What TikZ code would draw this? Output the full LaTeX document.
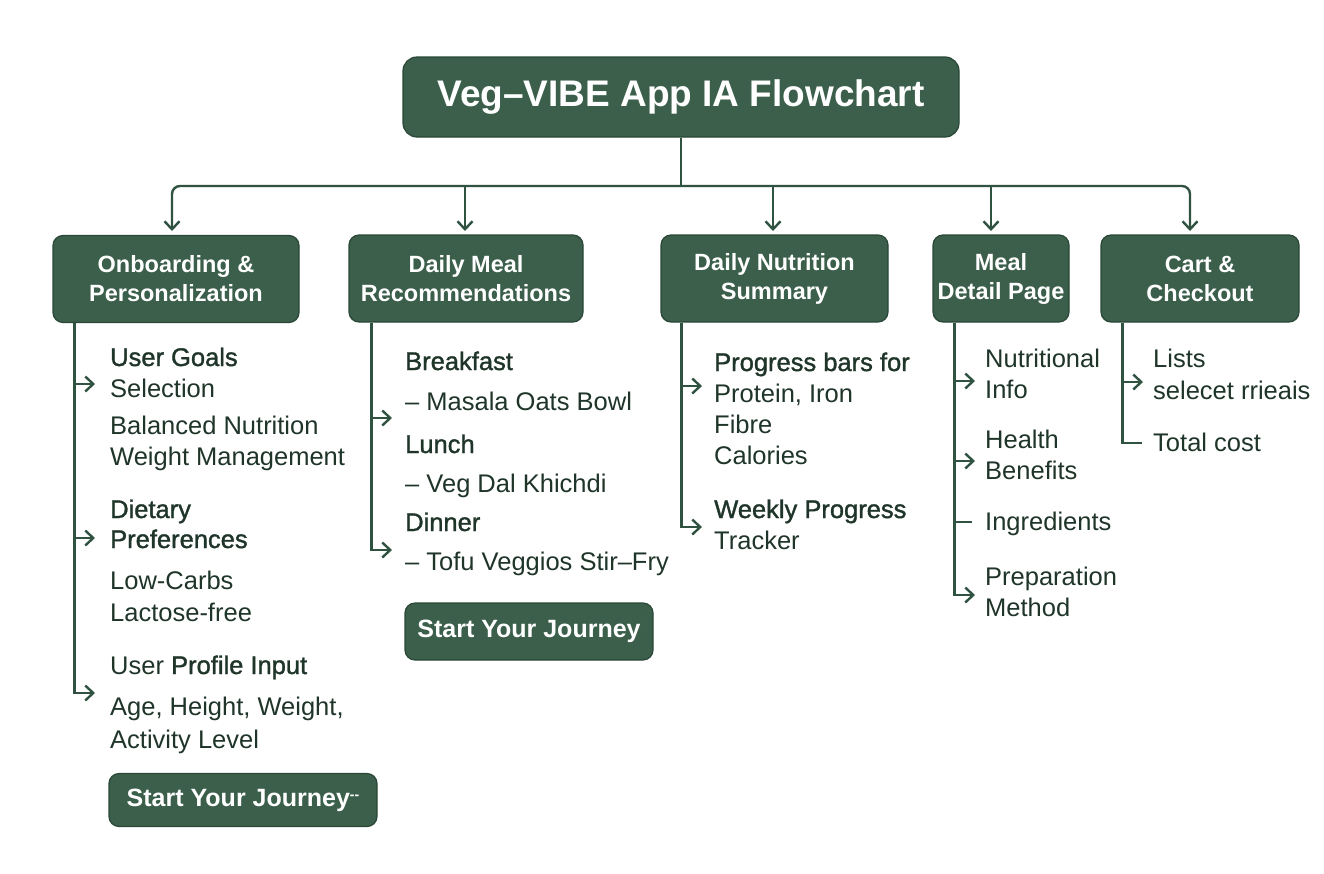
\documentclass[tikz,border=0pt]{standalone}
\usepackage{fontspec}
\setmainfont{Liberation Sans}
\newfontfamily\semib[FakeBold=1.3]{Liberation Sans}
\usetikzlibrary{arrows.meta}
\definecolor{boxgreen}{HTML}{3B5F4B}
\definecolor{boxedge}{HTML}{2A4737}
\definecolor{linegreen}{HTML}{2F5241}
\definecolor{txt}{HTML}{1F3529}
\tikzset{
  hbox/.style={draw=boxedge, fill=boxgreen, line width=1.2pt, rounded corners=10pt,
    text=white, font=\bfseries\fontsize{23.5}{29}\selectfont, align=center,
    inner sep=0pt, minimum height=87pt},
  btn/.style={draw=boxedge, fill=boxgreen, line width=1.2pt, rounded corners=10pt,
    text=white, font=\bfseries\fontsize{25}{30}\selectfont, inner sep=0pt},
  body/.style={anchor=base west, inner sep=0pt, text=txt, font=\fontsize{25.5}{30}\selectfont},
  sbody/.style={body, font=\semib\fontsize{25.5}{30}\selectfont},
  wire/.style={draw=linegreen, line width=2.4pt},
  arr/.style={wire, -{Straight Barb[length=8pt,width=15pt,line width=2.4pt]}},
}
\begin{document}
\begin{tikzpicture}[x=1pt,y=-1pt]
\useasboundingbox (0,0) rectangle (1324,873);
\fill[white] (0,0) rectangle (1324,873);

% title
\node[hbox, rounded corners=14pt, minimum width=556pt, minimum height=80pt,
  font=\bfseries\fontsize{37}{44}\selectfont] (title) at (681,97) {Veg–VIBE App IA Flowchart};

% section boxes
\node[hbox, minimum width=246pt] (b1) at (176,279) {Onboarding \&\\Personalization};
\node[hbox, minimum width=234pt] (b2) at (466,278.5) {Daily Meal\\Recommendations};
\node[hbox, minimum width=227pt] (b3) at (774.5,278.5) {Daily Nutrition\\Summary};
\node[hbox, minimum width=136pt] (b4) at (1001,278.5) {Meal\\Detail Page};
\node[hbox, minimum width=198pt] (b5) at (1200,278.5) {Cart \&\\Checkout};

% top connectors
\coordinate (hub) at (681,186);
\coordinate (n1) at (172,231);
\coordinate (n2) at (465,231);
\coordinate (n3) at (773,231);
\coordinate (n4) at (991,231);
\coordinate (n5) at (1190,231);
\draw[wire] (title.south) -- (hub);
\draw[arr, rounded corners=8pt] (hub) -| (n1);
\draw[arr, rounded corners=8pt] (hub) -| (n5);
\draw[arr] (hub -| n2) -- (n2);
\draw[arr] (hub -| n3) -- (n3);
\draw[arr] (hub -| n4) -- (n4);

% column 1
\coordinate (k1) at ([xshift=22pt]b1.south west);
\coordinate (e1a) at (95,384);
\coordinate (e1b) at (95,538);
\coordinate (e1c) at (95,693);
\draw[arr] (k1) |- (e1c);
\draw[arr] (k1 |- e1a) -- (e1a);
\draw[arr] (k1 |- e1b) -- (e1b);
\node[sbody] (c1a) at (110,366) {User Goals};
\node[body] (c1b) at (110,397) {Selection};
\node[body] (c1c) at (110,434) {Balanced Nutrition};
\node[body] (c1d) at (110,465) {Weight Management};
\node[sbody] (c1e) at (110,518) {Dietary};
\node[sbody] (c1f) at (110,548) {Preferences};
\node[body] (c1g) at (110,589) {Low-Carbs};
\node[body] (c1h) at (110,621) {Lactose-free};
\node[body] (c1i) at (110,674) {User {\semib Profile Input}};
\node[body] (c1j) at (110,715) {Age, Height, Weight,};
\node[body] (c1k) at (110,748) {Activity Level};
\node[btn, minimum width=268pt, minimum height=53pt] (btn1) at (243,800)
  {Start Your Journey\raisebox{7pt}{\fontsize{14}{14}\selectfont -{}-}};

% column 2
\coordinate (k2) at ([xshift=23pt]b2.south west);
\coordinate (e2a) at (392,418);
\coordinate (e2b) at (392,550);
\draw[arr] (k2) |- (e2b);
\draw[arr] (k2 |- e2a) -- (e2a);
\node[sbody] (c2a) at (405,370) {Breakfast};
\node[body] (c2b) at (405,410) {– Masala Oats Bowl};
\node[sbody] (c2c) at (405,453) {Lunch};
\node[body] (c2d) at (405,492) {– Veg Dal Khichdi};
\node[sbody] (c2e) at (405,531) {Dinner};
\node[body] (c2f) at (405,570) {– Tofu Veggios Stir–Fry};
\node[btn, minimum width=248pt, minimum height=57pt] (btn2) at (529,631.5) {Start Your Journey};

% column 3
\coordinate (k3) at ([xshift=21pt]b3.south west);
\coordinate (e3a) at (702,386);
\coordinate (e3b) at (702,527);
\draw[arr] (k3) |- (e3b);
\draw[arr] (k3 |- e3a) -- (e3a);
\node[sbody] (c3a) at (714,371) {Progress bars for};
\node[body] (c3b) at (714,402) {Protein, Iron};
\node[body] (c3c) at (714,433) {Fibre};
\node[body] (c3d) at (714,464) {Calories};
\node[sbody] (c3e) at (714,518) {Weekly Progress};
\node[body] (c3f) at (714,549) {Tracker};

% column 4
\coordinate (k4) at ([xshift=22pt]b4.south west);
\coordinate (e4a) at (975,381);
\coordinate (e4b) at (975,461);
\coordinate (e4c) at (972,522);
\coordinate (e4d) at (975,595);
\draw[arr] (k4) |- (e4d);
\draw[arr] (k4 |- e4a) -- (e4a);
\draw[arr] (k4 |- e4b) -- (e4b);
\draw[wire] (k4 |- e4c) -- (e4c);
\node[body] (c4a) at (985,367) {Nutritional};
\node[body] (c4b) at (985,398) {Info};
\node[body] (c4c) at (985,448) {Health};
\node[body] (c4d) at (985,479) {Benefits};
\node[body] (c4e) at (985,530) {Ingredients};
\node[body] (c4f) at (985,585) {Preparation};
\node[body] (c4g) at (985,616) {Method};

% column 5
\coordinate (k5) at ([xshift=22pt]b5.south west);
\coordinate (e5a) at (1143,382);
\coordinate (e5b) at (1142,443);
\draw[wire] (k5) |- (e5b);
\draw[arr] (k5 |- e5a) -- (e5a);
\node[body] (c5a) at (1153,367) {Lists};
\node[body] (c5b) at (1153,399) {selecet rrieais};
\node[body] (c5c) at (1153,451) {Total cost};
\end{tikzpicture}
\end{document}
